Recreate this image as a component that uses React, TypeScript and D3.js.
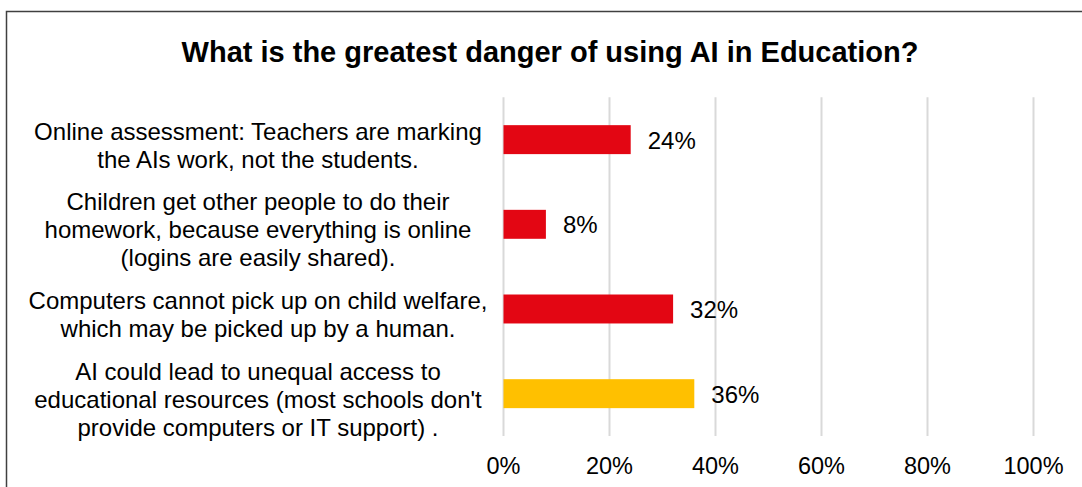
import React from "react";
import * as d3 from "d3";

const categories: string[][] = [
  ["Online assessment: Teachers are marking", "the AIs work, not the students."],
  ["Children get other people to do their", "homework, because everything is online", "(logins are easily shared)."],
  ["Computers cannot pick up on child welfare,", "which may be picked up by a human."],
  ["AI could lead to unequal access to", "educational resources (most schools don't", "provide computers or IT support) ."],
];
const values: number[] = [0.24, 0.08, 0.32, 0.36];
const barColors: string[] = ["#E30613", "#E30613", "#E30613", "#FFC000"];
const ticks: number[] = [0, 0.2, 0.4, 0.6, 0.8, 1.0];
const title = "What is the greatest danger of using AI in Education?";

const W = 1082;
const H = 487;
const FONT = "'Liberation Sans', Arial, sans-serif";

export default function App() {
  const plotTop = 97.3;
  const plotBottom = 436;
  const x = d3.scaleLinear().domain([0, 1]).range([503.5, 1033.5]);
  const y = d3
    .scaleBand<number>()
    .domain(d3.range(categories.length))
    .range([plotTop, plotBottom])
    .paddingInner(0.658)
    .paddingOuter(0.329);
  const fmt = d3.format(".0%");
  const lineH = 28;
  const labelCx = 258;

  return (
    <svg
      width={W}
      height={H}
      style={{ position: "absolute", left: 0, top: 0, background: "#fff" }}
      fontFamily={FONT}
    >
      <rect x={0} y={0} width={W} height={H} fill="#fff" />
      <rect x={6.5} y={11.5} width={W + 20} height={H + 20} fill="none" stroke="#404040" strokeWidth={1.5} />
      <text x={550} y={61.5} textAnchor="middle" fontSize={29} fontWeight="bold" fill="#000">
        {title}
      </text>
      {ticks.map((t) => (
        <line key={t} x1={x(t)} x2={x(t)} y1={plotTop} y2={plotBottom} stroke="#d9d9d9" strokeWidth={2} />
      ))}
      {ticks.map((t) => (
        <text key={"l" + t} x={x(t)} y={474} textAnchor="middle" fontSize={23.5} fill="#000">
          {fmt(t)}
        </text>
      ))}
      {values.map((v, i) => (
        <rect key={"b" + i} x={x(0)} y={y(i)!} width={x(v) - x(0)} height={y.bandwidth()} fill={barColors[i]} />
      ))}
      {values.map((v, i) => (
        <text
          key={"v" + i}
          x={x(v) + 17}
          y={y(i)! + y.bandwidth() / 2 + 9}
          fontSize={24}
          fill="#000"
        >
          {fmt(v)}
        </text>
      ))}
      {categories.map((lines, i) => {
        const cy = y(i)! + y.bandwidth() / 2;
        const startY = cy - ((lines.length - 1) * lineH) / 2 + 14;
        return (
          <text key={"c" + i} textAnchor="middle" fontSize={24} fill="#000">
            {lines.map((ln, j) => (
              <tspan key={j} x={labelCx} y={startY + j * lineH}>
                {ln}
              </tspan>
            ))}
          </text>
        );
      })}
    </svg>
  );
}
